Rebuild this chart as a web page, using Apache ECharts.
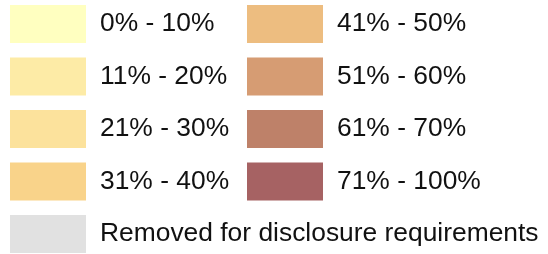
<!DOCTYPE html>
<html>
<head>
<meta charset="utf-8">
<script src="https://cdn.jsdelivr.net/npm/echarts@6/dist/echarts.min.js"></script>
<style>
html,body{margin:0;padding:0;background:#fff;}
#chart{width:548px;height:254px;}
</style>
</head>
<body>
<div id="chart"></div>
<script>
var categories = ['0% - 10%','11% - 20%','21% - 30%','31% - 40%','41% - 50%','51% - 60%','61% - 70%','71% - 100%','Removed for disclosure requirements'];
var colors = ['#FFFFC0','#FDEBA6','#FCE29C','#F9D38A','#EDBD80','#D69C73','#BE8169','#A66263','#E1E1E1'];
var leftColumn = categories.slice(0,4);
var rightColumn = categories.slice(4,8);
var bottomRow = categories.slice(8);

var chart = echarts.init(document.getElementById('chart'));
function makeLegend(data, left, top, gap){
  return {
    data: data, orient:'vertical', left:left, top:top, padding:0,
    itemWidth:76, itemHeight:38, itemGap:14.5, icon:'rect',
    selectedMode:false,
    textStyle:{fontFamily:'Liberation Sans, Arial, sans-serif', fontSize:26.4, color:'#111111', padding:[0,0,0,9]}
  };
}
var option = {
  animation:false,
  legend:[
    makeLegend(leftColumn, 10, 5, 9),
    makeLegend(rightColumn, 247, 5, 8),
    makeLegend(bottomRow, 10, 215, 9)
  ],
  grid:{show:false, left:0, right:0, top:0, bottom:0},
  xAxis:{show:false, type:'value'},
  yAxis:{show:false, type:'value'},
  series: categories.map(function(c,i){
    return {name:c, type:'scatter', data:[], itemStyle:{color:colors[i], opacity:1}};
  })
};
chart.setOption(option);
</script>
</body>
</html>
